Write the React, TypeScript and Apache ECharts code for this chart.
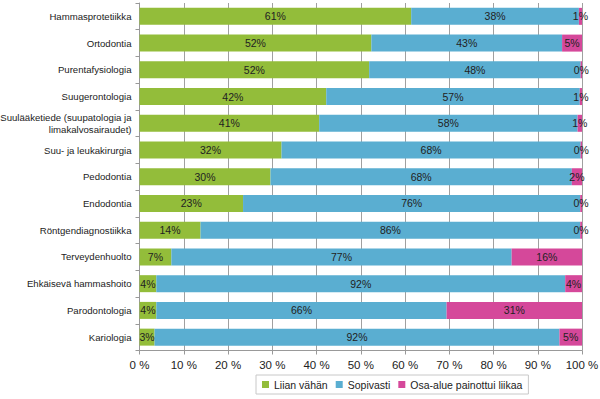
import React, { useEffect, useRef } from "react";
import * as echarts from "echarts";

const categories = [
  "Hammasprotetiikka",
  "Ortodontia",
  "Purentafysiologia",
  "Suugerontologia",
  "Suulääketiede (suupatologia ja\nlimakalvosairaudet)",
  "Suu- ja leukakirurgia",
  "Pedodontia",
  "Endodontia",
  "Röntgendiagnostiikka",
  "Terveydenhuolto",
  "Ehkäisevä hammashoito",
  "Parodontologia",
  "Kariologia",
];

const liianVahan = [61.4, 52.4, 51.9, 42.2, 40.6, 32.1, 29.6, 23.4, 13.8, 7.2, 3.8, 3.8, 3.4];
const sopivasti = [37.9, 43.1, 47.8, 57.3, 58.4, 67.6, 68.1, 76.2, 85.8, 76.9, 92.4, 65.6, 91.5];
const painottui = [0.7, 4.5, 0.3, 0.6, 1.0, 0.3, 2.3, 0.4, 0.4, 15.9, 3.8, 30.6, 5.1];

const seriesNames = ["Liian vähän", "Sopivasti", "Osa-alue painottui liikaa"];
const colors = ["#93bd3a", "#5aaed1", "#d5489a"];

export default function App() {
  const ref = useRef<HTMLDivElement>(null);
  useEffect(() => {
    if (!ref.current) return;
    const chart = echarts.init(ref.current, undefined, { renderer: "svg" });
    const font = "Liberation Sans, Arial, sans-serif";
    const mk = (name: string, data: number[], color: string) => ({
      name,
      type: "bar",
      stack: "total",
      data,
      barWidth: 17,
      itemStyle: { color },
      label: {
        show: true,
        position: "inside",
        formatter: (p: any) => Math.round(p.value) + "%",
        color: "#222",
        fontSize: 10.5,
        fontFamily: font,
      },
    });
    const pad = "\u00a0".repeat(9);
    chart.setOption({
      animation: false,
      textStyle: { fontFamily: font },
      grid: {
        left: 139.5,
        right: 18,
        top: 3,
        bottom: 48.5,
        containLabel: false,
        outerBoundsMode: "none",
      },
      legend: {
        data: seriesNames.map((n) => ({ name: n, icon: "rect" })),
        left: 256,
        top: 375,
        itemWidth: 7,
        itemHeight: 7,
        itemGap: 8,
        padding: [4, 6, 4, 6],
        borderColor: "#c8c8c8",
        borderWidth: 1,
        textStyle: { fontSize: 10.5, color: "#222", fontFamily: font },
      },
      xAxis: {
        type: "value",
        min: 0,
        max: 100,
        interval: 10,
        axisLabel: {
          formatter: (v: number) => v + " %",
          fontSize: 11.5,
          color: "#222",
          margin: 8,
          fontFamily: font,
        },
        axisLine: { show: true, lineStyle: { color: "#999" } },
        axisTick: { show: true, length: 4, lineStyle: { color: "#999" } },
        splitLine: { show: true, lineStyle: { color: "#a0a0a0", width: 1 } },
      },
      yAxis: {
        type: "category",
        data: categories,
        inverse: true,
        axisLine: { show: true, lineStyle: { color: "#999" } },
        axisTick: { show: true, length: 4, lineStyle: { color: "#999" } },
        axisLabel: {
          fontSize: 9.6,
          color: "#222",
          margin: 8,
          lineHeight: 12,
          fontFamily: font,
          formatter: (v: string) => {
            const parts = v.split("\n");
            if (parts.length < 2) return v;
            return parts[0] + "\n" + pad + parts[1];
          },
        },
      },
      series: [
        mk(seriesNames[0], liianVahan, colors[0]),
        mk(seriesNames[1], sopivasti, colors[1]),
        mk(seriesNames[2], painottui, colors[2]),
      ],
    });
    return () => chart.dispose();
  }, []);
  return <div ref={ref} style={{ width: 600, height: 399, position: "absolute", left: 0, top: 0 }} />;
}
